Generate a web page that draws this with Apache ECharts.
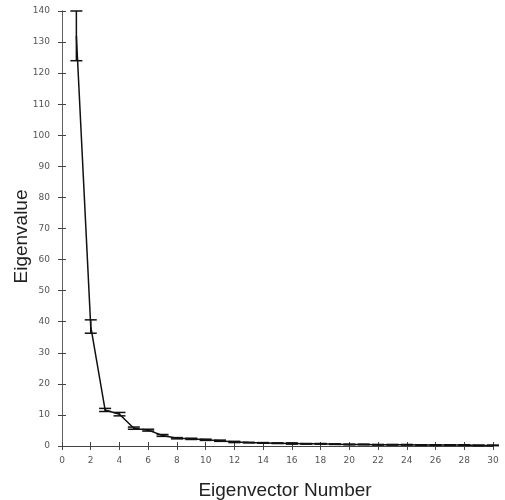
<!DOCTYPE html>
<html>
<head>
<meta charset="utf-8">
<script src="https://cdn.jsdelivr.net/npm/echarts@6/dist/echarts.min.js"></script>
<style>html,body{margin:0;padding:0;background:#fff}#c{width:505px;height:500px}</style>
</head>
<body>
<div id="c"></div>
<script>
var eigNumbers = [1,2,3,4,5,6,7,8,9,10,11,12,13,14,15,16,17,18,19,20,21,22,23,24,25,26,27,28,29,30];
var eigMeans = [132, 38.5, 11.6, 10.2, 5.7, 5.1, 3.4, 2.5, 2.3, 2.0, 1.7, 1.3, 1.1, 1.0, 0.9, 0.8, 0.7, 0.7, 0.6, 0.5, 0.5, 0.4, 0.4, 0.4, 0.3, 0.3, 0.3, 0.3, 0.2, 0.2];
var errLow = [124, 36.3, 11.1, 9.7, 5.4, 4.8, 3.1, 2.3, 2.1, 1.8, 1.5, 1.1, 1.0, 0.9, 0.8, 0.6, 0.6, 0.6, 0.5, 0.4, 0.4, 0.3, 0.3, 0.3, 0.2, 0.2, 0.2, 0.2, 0.1, 0.1];
var errHigh = [140, 40.6, 12.1, 10.8, 6.1, 5.4, 3.7, 2.7, 2.5, 2.2, 1.9, 1.5, 1.2, 1.1, 1.0, 1.0, 0.8, 0.8, 0.7, 0.6, 0.6, 0.5, 0.5, 0.5, 0.4, 0.4, 0.4, 0.4, 0.3, 0.3];
var xTickLabels = ['0','2','4','6','8','10','12','14','16','18','20','22','24','26','28','30'];
var yTickLabels = ['0','10','20','30','40','50','60','70','80','90','100','110','120','130','140'];

var lineData = eigNumbers.map(function(x,i){return [x, eigMeans[i]];});
var errData = eigNumbers.map(function(x,i){return [x, errLow[i], errHigh[i]];});

var chart = echarts.init(document.getElementById('c'), null, {renderer:'canvas'});
var axisLineStyle = {color:'#444', width:1};
var labelStyle = {color:'#555', fontSize:9, fontFamily:'DejaVu Sans'};
chart.setOption({
  animation:false,
  backgroundColor:'#fff',
  grid:{left:62, right:12, top:11, bottom:54, containLabel:false, outerBoundsMode:'none'},
  xAxis:[{
    type:'value', min:0, max:30, interval:2,
    name:'Eigenvector Number', nameLocation:'middle', nameGap:35, nameMoveOverlap:false,
    nameTextStyle:{color:'#222', fontSize:19, fontFamily:'Liberation Sans', padding:[0,0,0,15]},
    axisLine:{show:true, onZero:false, lineStyle:axisLineStyle},
    axisTick:{show:true, inside:true, length:4, lineStyle:axisLineStyle},
    axisLabel:Object.assign({margin:10, formatter:function(v){var i=xTickLabels.indexOf(String(v));return i>=0?xTickLabels[i]:'';}}, labelStyle),
    splitLine:{show:false}
  },{
    type:'value', min:0, max:30, interval:2, position:'top',
    axisLine:{show:true, lineStyle:axisLineStyle},
    axisTick:{show:true, inside:true, length:4, lineStyle:axisLineStyle},
    axisLabel:{show:false}, splitLine:{show:false}
  }],
  yAxis:[{
    type:'value', min:0, max:140, interval:10,
    name:'Eigenvalue', nameLocation:'middle', nameGap:31, nameRotate:90, nameMoveOverlap:false,
    nameTextStyle:{color:'#222', fontSize:19, fontFamily:'Liberation Sans', padding:[0,16,0,0]},
    axisLine:{show:true, onZero:false, lineStyle:axisLineStyle},
    axisTick:{show:true, inside:true, length:4, lineStyle:axisLineStyle},
    axisLabel:Object.assign({margin:12, formatter:function(v){var i=yTickLabels.indexOf(String(v));return i>=0?yTickLabels[i]:'';}}, labelStyle),
    splitLine:{show:false}
  },{
    type:'value', min:0, max:140, interval:10, position:'right',
    axisLine:{show:true, lineStyle:{color:'#666', width:1, type:'dotted'}},
    axisTick:{show:true, inside:true, length:4, lineStyle:axisLineStyle},
    axisLabel:{show:false}, splitLine:{show:false}
  }],
  series:[{
    type:'line', data:lineData, xAxisIndex:0, yAxisIndex:0,
    symbol:'none', lineStyle:{color:'#111', width:1.5}, z:3
  },{
    type:'custom', data:errData, xAxisIndex:0, yAxisIndex:0, z:4,
    encode:{x:0, y:[1,2]},
    renderItem:function(params, api){
      var x = api.value(0);
      var lo = api.coord([x, api.value(1)]);
      var hi = api.coord([x, api.value(2)]);
      var hw = 6;
      var st = {stroke:'#111', lineWidth:1.5};
      return {type:'group', children:[
        {type:'line', shape:{x1:lo[0], y1:lo[1], x2:hi[0], y2:hi[1]}, style:st},
        {type:'line', shape:{x1:lo[0]-hw, y1:lo[1], x2:lo[0]+hw, y2:lo[1]}, style:st},
        {type:'line', shape:{x1:hi[0]-hw, y1:hi[1], x2:hi[0]+hw, y2:hi[1]}, style:st}
      ]};
    }
  }]
});
</script>
</body>
</html>
